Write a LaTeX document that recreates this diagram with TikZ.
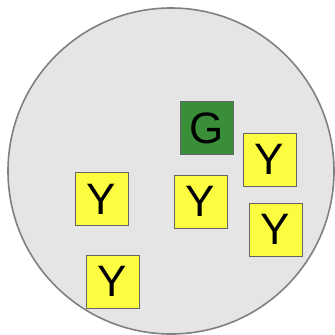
\documentclass[tikz,border=0pt]{standalone}
\usepackage{fontspec}
\setmainfont{Liberation Sans}
\definecolor{bg}{RGB}{229,229,229}
\definecolor{rim}{RGB}{128,128,128}
\definecolor{ybox}{RGB}{252,252,64}
\definecolor{gbox}{RGB}{58,142,58}
\definecolor{edge}{RGB}{100,100,100}
\begin{document}
\begin{tikzpicture}[x=1pt,y=-1pt,
  card/.style={draw=edge, line width=0.8pt, minimum size=53pt, inner sep=0pt,
    font=\fontsize{44}{44}\selectfont, text=black},
  ycard/.style={card, fill=ybox},
  gcard/.style={card, fill=gbox}]
\useasboundingbox (0,0) rectangle (335,335);
\node[circle, draw=rim, line width=1.6pt, fill=bg, minimum size=326pt, inner sep=0pt] (plate) at (171,171) {};
\node[gcard] (g) at (206.5,128) {G};
\node[ycard] (y1) at (269.5,159.5) {Y};
\node[ycard] (y2) at (101.5,199) {Y};
\node[ycard] (y3) at (200.5,201.5) {Y};
\node[ycard] (y4) at (275.5,229.5) {Y};
\node[ycard] (y5) at (112.5,281.5) {Y};
\end{tikzpicture}
\end{document}
